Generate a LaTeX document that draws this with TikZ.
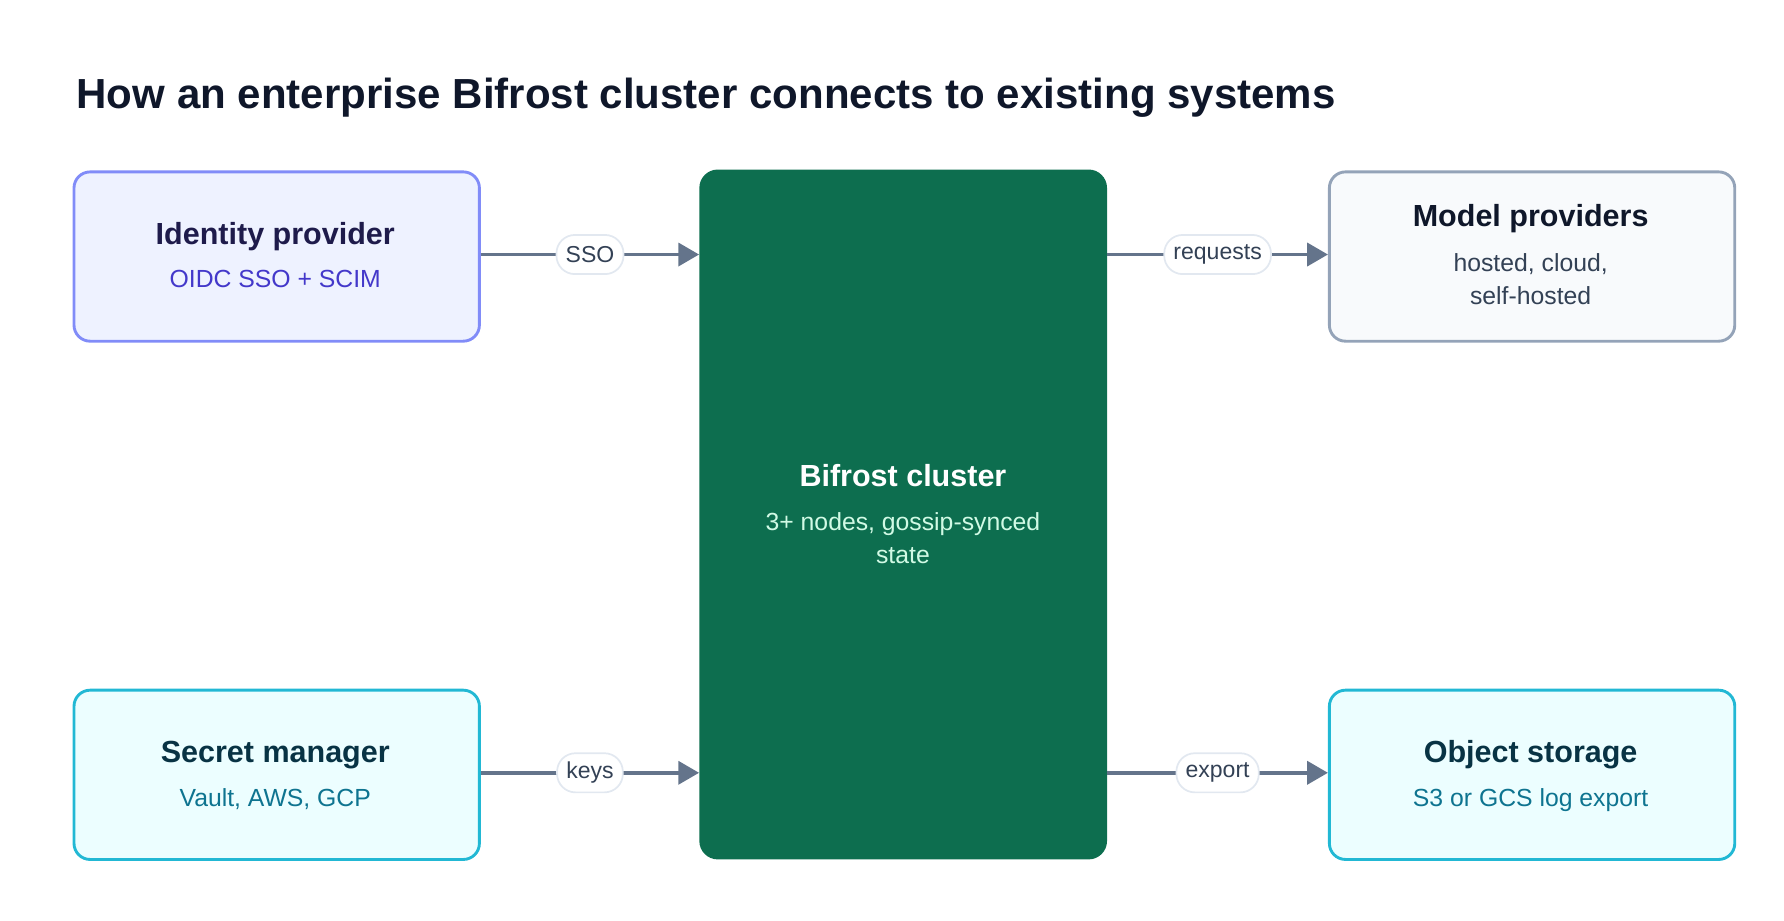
\documentclass[tikz,border=0pt]{standalone}
\usepackage{fontspec}
\setmainfont{Liberation Sans}
\usetikzlibrary{arrows.meta,positioning}
\definecolor{ink}{HTML}{0F172A}
\definecolor{slate}{HTML}{334155}
\definecolor{wire}{HTML}{64748B}
\definecolor{pillbd}{HTML}{E2E8F0}
\definecolor{idfill}{HTML}{EEF2FF}
\definecolor{idbd}{HTML}{818CF8}
\definecolor{idhead}{HTML}{1E1B4B}
\definecolor{idsub}{HTML}{4338CA}
\definecolor{cyfill}{HTML}{ECFEFF}
\definecolor{cybd}{HTML}{22B8D4}
\definecolor{cyhead}{HTML}{083344}
\definecolor{cysub}{HTML}{0E7490}
\definecolor{mpfill}{HTML}{F8FAFC}
\definecolor{mpbd}{HTML}{94A3B8}
\definecolor{core}{HTML}{0D6E4F}
\definecolor{coresub}{HTML}{D1FAE5}
\tikzset{
  sys/.style={draw, line width=2.5pt, rounded corners=14pt, minimum width=352pt, minimum height=147pt, anchor=north west},
  head/.style={font=\fontsize{26.5}{30}\selectfont\bfseries},
  sub/.style={font=\fontsize{21.5}{28}\selectfont, align=center},
  pill/.style={draw=pillbd, line width=1.5pt, fill=white, rounded corners=16pt, font=\fontsize{20}{22}\selectfont, text=slate, inner xsep=8pt, minimum height=34pt},
  link/.style={draw=wire, line width=3pt, -{Triangle[length=18pt,width=20pt]}}
}
\begin{document}
\begin{tikzpicture}[x=1pt,y=-1pt]
\useasboundingbox (0,0) rectangle (1549,799);
\node[anchor=base west, font=\fontsize{36.5}{40}\selectfont\bfseries, text=ink] (title) at (63,94) {How an enterprise Bifrost cluster connects to existing systems};
% systems around the cluster
\node[sys, fill=idfill, draw=idbd] (idp) at (63,148) {};
\node[sys, fill=cyfill, draw=cybd] (sec) at (63,598) {};
\node[sys, fill=mpfill, draw=mpbd] (mod) at (1153,148) {};
\node[sys, fill=cyfill, draw=cybd] (obj) at (1153,598) {};
\node[fill=core, rounded corners=16pt, minimum width=354pt, minimum height=599pt, anchor=north west] (bif) at (607,147) {};
% texts
\node[head, text=idhead, anchor=base] (idp-t) at (239,212) {Identity provider};
\node[sub, text=idsub, anchor=base] (idp-s) at (239,250) {OIDC SSO + SCIM};
\node[head, text=cyhead, anchor=base] (sec-t) at (239,662) {Secret manager};
\node[sub, text=cysub, anchor=base] (sec-s) at (239,700) {Vault, AWS, GCP};
\node[head, text=ink, anchor=base] (mod-t) at (1329,197) {Model providers};
\node[sub, text=slate, anchor=base] (mod-s) at (1329,264) {hosted, cloud,\\self-hosted};
\node[head, text=cyhead, anchor=base] (obj-t) at (1329,662) {Object storage};
\node[sub, text=cysub, anchor=base] (obj-s) at (1329,700) {S3 or GCS log export};
\node[head, text=white, anchor=base] (bif-t) at (784,422) {Bifrost cluster};
\node[sub, text=coresub, anchor=base] (bif-s) at (784,489) {3+ nodes, gossip-synced\\state};
% connectors
\coordinate (a1) at (idp.east |- 0,221); \coordinate (b1) at (bif.west |- 0,221);
\coordinate (a2) at (sec.east |- 0,671); \coordinate (b2) at (bif.west |- 0,671);
\coordinate (a3) at (bif.east |- 0,221); \coordinate (b3) at (mod.west |- 0,221);
\coordinate (a4) at (bif.east |- 0,671); \coordinate (b4) at (obj.west |- 0,671);
\foreach \s/\t/\l in {a1/b1/SSO,a2/b2/keys,a3/b3/requests,a4/b4/export} {
  \draw[link] (\s) -- (\t) node[pill, pos=0.5] (lab-\s) {\l};
}
\end{tikzpicture}
\end{document}
